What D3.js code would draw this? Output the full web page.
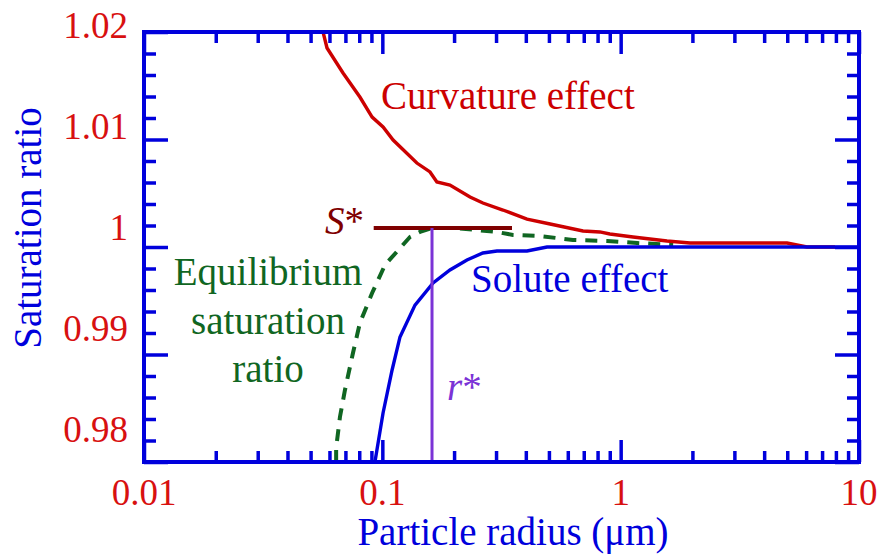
<!DOCTYPE html>
<html>
<head>
<meta charset="utf-8">
<script src="https://cdn.jsdelivr.net/npm/d3@7"></script>
<style>
body {margin: 0; background: #fff;}
</style>
</head>
<body>
<div class="KOHLER"></div>
<script>
// values (radius in um, saturation ratio)
var curvR = [0.0564, 0.0586, 0.0684, 0.0805, 0.0906, 0.1007, 0.111, 0.1396, 0.1585, 0.1694, 0.1922, 0.2333, 0.2642, 0.3206, 0.4046, 0.5058, 0.695, 0.818, 0.901, 1.127, 1.565, 1.954, 4.99, 6.05, 7.93];
var curvS = [1.02, 1.01851, 1.01619, 1.01395, 1.01209, 1.01116, 1.00995, 1.00781, 1.00698, 1.00605, 1.00577, 1.00465, 1.00409, 1.00344, 1.0026, 1.00214, 1.00149, 1.0014, 1.00121, 1.00093, 1.00056, 1.00037, 1.00037, 1.0, 1.0];

var soluteR = [0.0931, 0.1007, 0.1099, 0.1186, 0.1371, 0.1633, 0.1922, 0.2265, 0.2642, 0.3027, 0.4046, 0.4909, 10];
var soluteS = [0.98, 0.98456, 0.98856, 0.99163, 0.9946, 0.99665, 0.99786, 0.99879, 0.99944, 0.99963, 0.99963, 1.0, 1.0];

var eqR = [0.064, 0.064, 0.0664, 0.0697, 0.0753, 0.0805, 0.0906, 0.1026, 0.1306, 0.1439, 0.1616, 0.2018, 0.2494, 0.3027, 0.3532, 0.4592, 0.631, 0.877, 1.172, 1.66];
var eqS = [0.98, 0.9813, 0.98419, 0.9867, 0.99014, 0.99293, 0.99572, 0.99833, 1.00093, 1.0014, 1.00177, 1.00177, 1.00158, 1.0014, 1.00112, 1.00102, 1.00065, 1.00056, 1.00037, 1.00019];

var sStar = 1.00177, sStarR = [0.092, 0.35];
var rStar = 0.1616;

var xMajor = [0.01, 0.1, 1, 10];
var xLabels = ["0.01", "0.1", "1", "10"];
var xMinor = [0.02, 0.03, 0.04, 0.05, 0.06, 0.07, 0.08, 0.09, 0.2, 0.3, 0.4, 0.5, 0.6, 0.7, 0.8, 0.9, 2, 3, 4, 5, 6, 7, 8, 9];
var yMajor = [0.98, 0.99, 1, 1.01, 1.02];
var yLabels = ["0.98", "0.99", "1", "1.01", "1.02"];
var yMinor = [0.982, 0.984, 0.986, 0.988, 0.992, 0.994, 0.996, 0.998, 1.002, 1.004, 1.006, 1.008, 1.012, 1.014, 1.016, 1.018];

var blue = "#0000dc", red = "#d81010", font = "Liberation Serif";

var margin = {top: 32, right: 27, bottom: 94, left: 144},
    width = 886 - margin.left - margin.right,
    height = 556 - margin.top - margin.bottom;

var svg = d3.select(".KOHLER").append("svg")
    .attr("width", 886)
    .attr("height", 556);

var g = svg.append("g").attr("transform", "translate(" + margin.left + "," + margin.top + ")");

var x = d3.scaleLog().domain([0.01, 10]).range([0, width]);
var y = d3.scaleLinear().domain([0.98, 1.02]).range([height, 0]);
// tick labels in the original sit a bit off the ticks
var yLab = d3.scaleLinear().domain([0.98, 1.02]).range([442, 38]);

svg.append("defs").append("clipPath").attr("id", "plot")
  .append("rect").attr("width", width).attr("height", height);

var plot = g.append("g").attr("clip-path", "url(#plot)");

var line = d3.line().x(function(d) {return x(d[0]);}).y(function(d) {return y(d[1]);});

// equilibrium curve (dashed)
plot.append("path")
  .datum(d3.zip(eqR, eqS))
  .attr("d", line)
  .attr("fill", "none")
  .attr("stroke", "#106622")
  .attr("stroke-width", 4)
  .attr("stroke-dasharray", "12,9");

// curvature effect
plot.append("path")
  .datum(d3.zip(curvR, curvS))
  .attr("d", line)
  .attr("fill", "none")
  .attr("stroke", "#cc0000")
  .attr("stroke-width", 3.4);

// solute effect
plot.append("path")
  .datum(d3.zip(soluteR, soluteS))
  .attr("d", line)
  .attr("fill", "none")
  .attr("stroke", blue)
  .attr("stroke-width", 3.4);

// S* and r*
plot.append("line")
  .attr("x1", x(sStarR[0])).attr("x2", x(sStarR[1]))
  .attr("y1", y(sStar)).attr("y2", y(sStar))
  .attr("stroke", "#7f0000").attr("stroke-width", 4);

plot.append("line")
  .attr("x1", x(rStar)).attr("x2", x(rStar))
  .attr("y1", y(sStar)).attr("y2", height)
  .attr("stroke", "#7b33d6").attr("stroke-width", 3);

// frame and ticks
g.append("rect")
  .attr("width", width).attr("height", height)
  .attr("fill", "none").attr("stroke", blue).attr("stroke-width", 4);

function tickRow(axis, tr, vals, size) {
  var t = g.append("g")
    .attr("transform", tr)
    .style("color", blue)
    .call(axis.tickValues(vals).tickSize(size).tickSizeOuter(0).tickFormat(""));
  t.select(".domain").remove();
  t.selectAll("line").attr("stroke-width", 3.5);
}
tickRow(d3.axisBottom(x), "translate(0," + height + ")", xMajor, -22);
tickRow(d3.axisBottom(x), "translate(0," + height + ")", xMinor, -11);
tickRow(d3.axisTop(x), "translate(0,0)", xMajor, -22);
tickRow(d3.axisTop(x), "translate(0,0)", xMinor, -11);
tickRow(d3.axisLeft(y), "translate(0,0)", yMajor, -24);
tickRow(d3.axisLeft(y), "translate(0,0)", yMinor, -12);
tickRow(d3.axisRight(y), "translate(" + width + ",0)", yMajor, -24);
tickRow(d3.axisRight(y), "translate(" + width + ",0)", yMinor, -12);

function label(sel, size) {
  return sel.attr("font-family", font).attr("font-size", size || 39);
}

// tick labels
svg.selectAll(".xlab")
  .data(xMajor)
  .enter().append("text")
  .call(label, 37)
  .attr("x", function(d) {return margin.left + x(d);})
  .attr("y", 505)
  .attr("text-anchor", "middle")
  .attr("fill", red)
  .text(function(d, i) {return xLabels[i];});

svg.selectAll(".ylab")
  .data(yMajor)
  .enter().append("text")
  .call(label, 37)
  .attr("x", 128)
  .attr("y", function(d) {return yLab(d);})
  .attr("text-anchor", "end")
  .attr("fill", red)
  .text(function(d, i) {return yLabels[i];});

// axis titles
svg.append("text").call(label)
  .attr("x", 513).attr("y", 545)
  .attr("text-anchor", "middle")
  .attr("fill", blue)
  .text("Particle radius (\u03bcm)");

svg.append("text").call(label)
  .attr("transform", "translate(41,228) rotate(-90)")
  .attr("text-anchor", "middle")
  .attr("fill", blue)
  .text("Saturation ratio");

// annotations
svg.append("text").call(label)
  .attr("x", 381).attr("y", 109)
  .attr("fill", "#cc0000")
  .text("Curvature effect");

svg.append("text").call(label)
  .attr("x", 471).attr("y", 292)
  .attr("fill", blue)
  .text("Solute effect");

var eqLines = ["Equilibrium", "saturation", "ratio"];
svg.selectAll(".eqlab")
  .data(eqLines)
  .enter().append("text")
  .call(label)
  .attr("x", 268)
  .attr("y", function(d, i) {return 285 + i * 48.5;})
  .attr("text-anchor", "middle")
  .attr("fill", "#106622")
  .text(function(d) {return d;});

var sLab = svg.append("text").call(label)
  .attr("x", 364).attr("y", 234)
  .attr("text-anchor", "end")
  .attr("fill", "#7f0000");
sLab.append("tspan").attr("font-style", "italic").text("S");
sLab.append("tspan").text("*");

var rLab = svg.append("text").call(label)
  .attr("x", 447).attr("y", 400)
  .attr("fill", "#7b33d6");
rLab.append("tspan").attr("font-style", "italic").text("r");
rLab.append("tspan").text("*");
</script>
</body>
</html>
